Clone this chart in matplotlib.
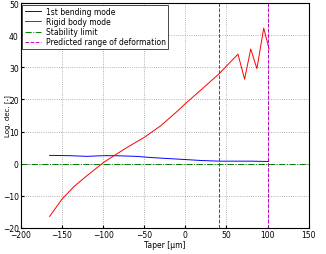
import matplotlib
matplotlib.use('Agg')
import matplotlib.pyplot as plt

plt.rcParams['font.family'] = 'DejaVu Sans'
plt.rcParams['font.size'] = 6

# values
taper_bend = [-165, -140, -120, -100, -85, -60, -40, -20, 0, 20, 41, 60, 80, 101]
logdec_bend = [2.6, 2.5, 2.3, 2.5, 2.5, 2.3, 1.9, 1.6, 1.3, 1.0, 0.8, 0.8, 0.8, 0.7]

taper_rigid = [-165, -150, -135, -120, -100, -85, -70, -50, -30, -10, 0, 20, 41, 64,
               72, 79.5, 87, 95.3, 101.8]
logdec_rigid = [-16.4, -11, -7, -3.8, 0.3, 2.8, 5.2, 8.2, 11.8, 16.3, 18.7, 23.2, 28,
                34.1, 26.3, 35.7, 29.6, 42.2, 35.7]

stability = 0
deform_range = [41, 101]

fig = plt.figure(figsize=(3.26, 2.55), dpi=100)
ax = fig.add_axes([0.064, 0.102, 0.883, 0.882])

ax.plot(taper_bend, logdec_bend, color='b', linewidth=0.7, label='1st bending mode')
ax.plot(taper_rigid, logdec_rigid, color='r', linewidth=0.7, label='Rigid body mode')
ax.axhline(stability, color='g', linestyle='-.', linewidth=0.7, label='Stability limit')
ax.axvline(deform_range[0], color='m', linestyle='--', linewidth=0.7,
           label='Predicted range of deformation')
ax.axvline(deform_range[1], color='m', linestyle='--', linewidth=0.7)

ax.set_xlim(-200, 150)
ax.set_ylim(-20, 50)
ax.set_xticks(range(-200, 151, 50))
ax.set_yticks(range(-20, 51, 10))
ax.tick_params(direction='in', length=2, labelsize=5.5, pad=1.5)
ax.grid(True, linestyle=':', color='0.6', linewidth=0.6)
ax.set_xlabel('Taper [µm]', fontsize=5.5, labelpad=1)
ax.set_ylabel('Log. dec. [-]', fontsize=5)
ax.yaxis.set_label_coords(-0.036, 0.5)

leg = ax.legend(loc='upper left', fontsize=5.5, handlelength=2.2, borderpad=0.3,
                labelspacing=0.15, fancybox=False, framealpha=1,
                borderaxespad=0.2, handletextpad=0.6)
leg.get_frame().set_edgecolor('k')
leg.get_frame().set_linewidth(0.5)

plt.savefig('out.png', dpi=100)
plt.close()
